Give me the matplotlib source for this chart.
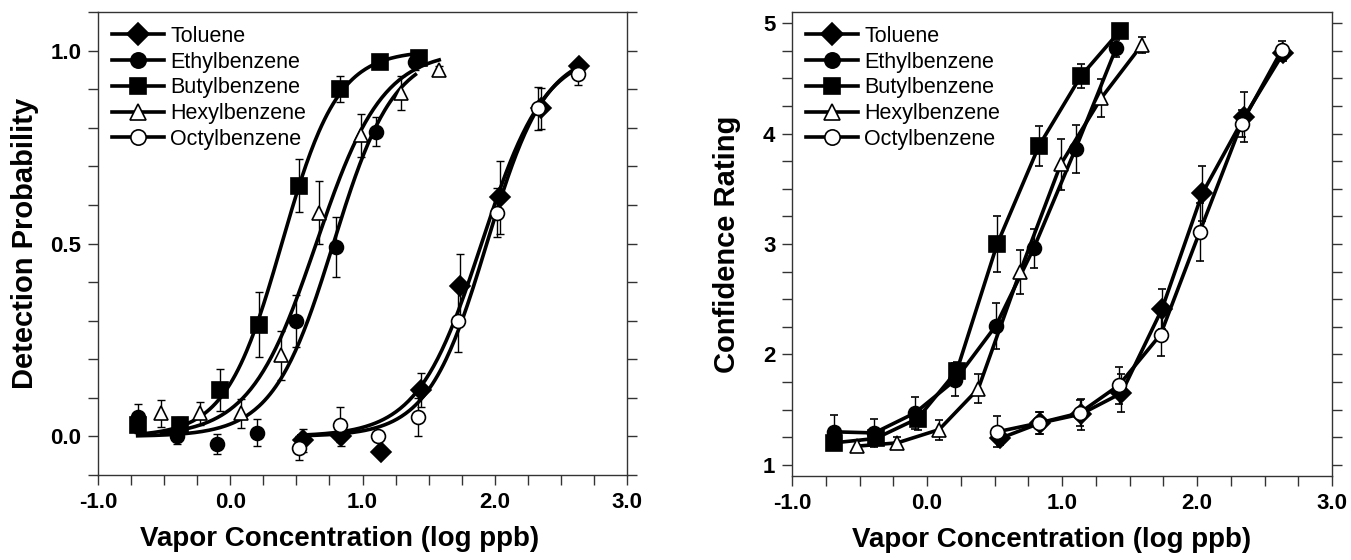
import numpy as np
import matplotlib
matplotlib.use('Agg')
import matplotlib.pyplot as plt
from matplotlib.ticker import MultipleLocator, FormatStrFormatter

plt.rcParams['font.family'] = ['Liberation Sans', 'DejaVu Sans']

names = ['Toluene', 'Ethylbenzene', 'Butylbenzene', 'Hexylbenzene', 'Octylbenzene']
markers = ['D', 'o', 's', '^', 'o']
faces = ['black', 'black', 'black', 'white', 'white']

# Left panel: detection probability
det_x = [
    [0.55, 0.84, 1.14, 1.44, 1.74, 2.04, 2.35, 2.64],
    [-0.70, -0.40, -0.10, 0.20, 0.50, 0.80, 1.10, 1.40],
    [-0.70, -0.38, -0.08, 0.22, 0.52, 0.83, 1.13, 1.43],
    [-0.52, -0.23, 0.08, 0.38, 0.67, 0.99, 1.29, 1.58],
    [0.52, 0.83, 1.12, 1.42, 1.72, 2.02, 2.33, 2.63],
]
det_y = [
    [-0.01, 0.00, -0.04, 0.12, 0.39, 0.62, 0.85, 0.96],
    [0.05, 0.00, -0.02, 0.01, 0.30, 0.49, 0.79, 0.97],
    [0.03, 0.03, 0.12, 0.29, 0.65, 0.90, 0.97, 0.98],
    [0.06, 0.06, 0.06, 0.21, 0.58, 0.78, 0.89, 0.95],
    [-0.03, 0.03, 0.00, 0.05, 0.30, 0.58, 0.85, 0.94],
]
det_err = [
    [0.03, 0.026, 0.01, 0.044, 0.083, 0.095, 0.052, 0.01],
    [0.035, 0.02, 0.025, 0.035, 0.067, 0.078, 0.038, 0.02],
    [0.02, 0.02, 0.055, 0.085, 0.068, 0.033, 0.01, 0.01],
    [0.035, 0.03, 0.037, 0.064, 0.082, 0.055, 0.045, 0.01],
    [0.03, 0.045, 0.01, 0.05, 0.08, 0.063, 0.056, 0.03],
]

# Right panel: confidence rating
conf_x = [
    [0.54, 0.84, 1.14, 1.44, 1.74, 2.04, 2.35, 2.64],
    [-0.69, -0.39, -0.09, 0.21, 0.51, 0.79, 1.10, 1.40],
    [-0.69, -0.38, -0.07, 0.22, 0.52, 0.83, 1.14, 1.43],
    [-0.52, -0.22, 0.09, 0.38, 0.69, 0.99, 1.29, 1.59],
    [0.52, 0.83, 1.13, 1.42, 1.73, 2.02, 2.33, 2.63],
]
conf_y = [
    [1.24, 1.38, 1.46, 1.65, 2.41, 3.46, 4.15, 4.73],
    [1.30, 1.29, 1.47, 1.77, 2.26, 2.96, 3.86, 4.77],
    [1.20, 1.24, 1.42, 1.85, 3.00, 3.89, 4.52, 4.93],
    [1.17, 1.20, 1.32, 1.69, 2.75, 3.72, 4.32, 4.80],
    [1.30, 1.38, 1.47, 1.72, 2.18, 3.11, 4.09, 4.76],
]
conf_err = [
    [0.06, 0.10, 0.14, 0.17, 0.18, 0.25, 0.23, 0.07],
    [0.15, 0.13, 0.145, 0.15, 0.21, 0.18, 0.22, 0.08],
    [0.05, 0.05, 0.10, 0.08, 0.25, 0.18, 0.11, 0.05],
    [0.05, 0.05, 0.09, 0.13, 0.20, 0.23, 0.17, 0.07],
    [0.14, 0.10, 0.12, 0.17, 0.19, 0.26, 0.12, 0.08],
]


def fit_logistic(x, y):
    # least squares fit of a two-parameter logistic by grid search
    x = np.asarray(x)
    y = np.asarray(y)
    mids = np.linspace(-1, 3, 801)
    slopes = np.linspace(1, 12, 441)
    M, S = np.meshgrid(mids, slopes, indexing='ij')
    pred = 1 / (1 + np.exp(-S[..., None] * (x - M[..., None])))
    sse = ((pred - y) ** 2).sum(axis=-1)
    i, j = np.unravel_index(np.argmin(sse), sse.shape)
    return mids[i], slopes[j]


fig = plt.figure(figsize=(13.51, 5.6), dpi=100)
ax1 = fig.add_axes([98 / 1351, 85 / 560, 529 / 1351, 463 / 560])
ax2 = fig.add_axes([792 / 1351, 84 / 560, 540 / 1351, 464 / 560])

for i in range(5):
    m, s = fit_logistic(det_x[i], det_y[i])
    xs = np.linspace(det_x[i][0], det_x[i][-1], 200)
    ax1.plot(xs, 1 / (1 + np.exp(-s * (xs - m))), color='black', lw=2.6, zorder=2)
for i in range(5):
    ax1.errorbar(det_x[i], det_y[i], yerr=det_err[i], fmt='none', ecolor='black',
                 elinewidth=1, capsize=3, zorder=3)
    ms = 11 if markers[i] == 's' else 10
    ax1.plot(det_x[i], det_y[i], linestyle='none', marker=markers[i], ms=ms,
             mfc=faces[i], mec='black', mew=1.2, zorder=4)
    ax1.plot([], [], color='black', lw=2.6, marker=markers[i], ms=ms + 1,
             mfc=faces[i], mec='black', mew=1.2, label=names[i])

for i in range(5):
    ms = 11 if markers[i] == 's' else 10
    ax2.errorbar(conf_x[i], conf_y[i], yerr=conf_err[i], color='black', lw=2.6,
                 elinewidth=1, capsize=3, marker=markers[i], ms=ms, mfc=faces[i],
                 mec='black', mew=1.2)
    ax2.plot([], [], color='black', lw=2.6, marker=markers[i], ms=ms + 1,
             mfc=faces[i], mec='black', mew=1.2, label=names[i])

ax1.set_xlim(-1, 3)
ax1.set_ylim(-0.1, 1.1)
ax1.yaxis.set_major_locator(MultipleLocator(0.5))
ax1.yaxis.set_minor_locator(MultipleLocator(0.1))
ax1.yaxis.set_major_formatter(FormatStrFormatter('%.1f'))
ax1.set_ylabel('Detection Probability', fontsize=21, fontweight='bold', labelpad=8)

ax2.set_xlim(-1, 3)
ax2.set_ylim(0.9, 5.1)
ax2.yaxis.set_major_locator(MultipleLocator(1))
ax2.yaxis.set_minor_locator(MultipleLocator(0.25))
ax2.set_ylabel('Confidence Rating', fontsize=21, fontweight='bold', labelpad=16)

for ax, lx in ((ax1, 0.456), (ax2, 0.481)):
    ax.xaxis.set_major_locator(MultipleLocator(1))
    ax.xaxis.set_minor_locator(MultipleLocator(0.25))
    ax.xaxis.set_major_formatter(FormatStrFormatter('%.1f'))
    ax.tick_params(which='both', direction='out', right=True, top=False,
                   length=7, width=1, color='#333333')
    ax.tick_params(which='major', labelsize=16, pad=5)
    for lab in ax.get_xticklabels() + ax.get_yticklabels():
        lab.set_fontweight('bold')
    for sp in ax.spines.values():
        sp.set_color('#333333')
        sp.set_linewidth(1)
    ax.set_xlabel('Vapor Concentration (log ppb)', fontsize=20, fontweight='bold')
    ax.xaxis.set_label_coords(lx, -0.11)
    ax.legend(loc='upper left', frameon=False, fontsize=15.5, handlelength=2.4,
              handletextpad=0.3, labelspacing=0.22, borderaxespad=0.25)

fig.savefig('out.png', dpi=100)
